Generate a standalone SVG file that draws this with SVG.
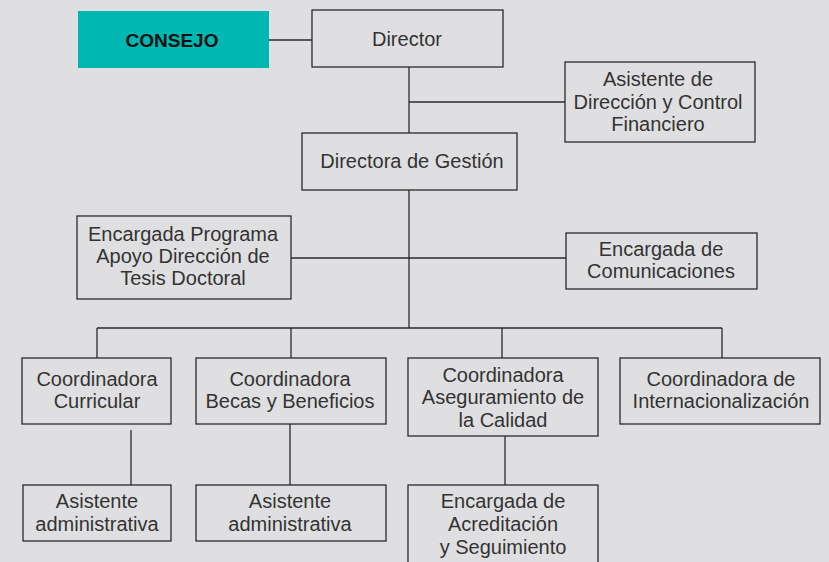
<svg xmlns="http://www.w3.org/2000/svg" width="829" height="562" viewBox="0 0 829 562">
<style>
.bg{fill:#dfdfe1}
.box{fill:#dfdfe1;stroke:#2a2a2a;stroke-width:1.3}
.line{stroke:#2a2a2a;stroke-width:1.3;fill:none}
text{font-family:"Liberation Sans",Arial,sans-serif;font-size:20px;fill:#333;text-anchor:middle}
.bold{font-weight:bold;fill:#111;font-size:19px}
</style>
<rect class="bg" x="0" y="0" width="829" height="562"/>
<g id="connectors">
<line class="line" x1="269" y1="40" x2="312" y2="40"/>
<line class="line" x1="409" y1="67" x2="409" y2="133"/>
<line class="line" x1="409" y1="102" x2="565" y2="102"/>
<line class="line" x1="409" y1="190" x2="409" y2="328"/>
<line class="line" x1="291" y1="258" x2="566" y2="258"/>
<line class="line" x1="97" y1="328" x2="722" y2="328"/>
<line class="line" x1="97" y1="328" x2="97" y2="358"/>
<line class="line" x1="291" y1="328" x2="291" y2="358"/>
<line class="line" x1="502" y1="328" x2="502" y2="358"/>
<line class="line" x1="722" y1="328" x2="722" y2="358"/>
<line class="line" x1="131" y1="430" x2="131" y2="485"/>
<line class="line" x1="290" y1="424" x2="290" y2="485"/>
<line class="line" x1="505" y1="436" x2="505" y2="485"/>
</g>
<g id="consejo">
<rect x="78" y="11" width="191" height="57" fill="#00b8b1"/>
<text class="bold" x="172" y="47">CONSEJO</text>
</g>
<g id="director">
<rect class="box" x="312" y="10" width="191" height="57"/>
<text x="407" y="46">Director</text>
</g>
<g id="asistente-direccion">
<rect class="box" x="565" y="62" width="190" height="80"/>
<text x="658" y="86">Asistente de</text>
<text x="658" y="109">Dirección y Control</text>
<text x="658" y="131">Financiero</text>
</g>
<g id="directora-gestion">
<rect class="box" x="302" y="133" width="215" height="57"/>
<text x="412" y="168">Directora de Gestión</text>
</g>
<g id="encargada-programa">
<rect class="box" x="77" y="216" width="214" height="83"/>
<text x="183" y="241">Encargada Programa</text>
<text x="183" y="263">Apoyo Dirección de</text>
<text x="183" y="285">Tesis Doctoral</text>
</g>
<g id="encargada-comunicaciones">
<rect class="box" x="566" y="233" width="191" height="56"/>
<text x="661" y="256">Encargada de</text>
<text x="661" y="278">Comunicaciones</text>
</g>
<g id="coord-curricular">
<rect class="box" x="22" y="358" width="149" height="66"/>
<text x="97" y="386">Coordinadora</text>
<text x="97" y="408">Curricular</text>
</g>
<g id="coord-becas">
<rect class="box" x="196" y="358" width="190" height="66"/>
<text x="290" y="386">Coordinadora</text>
<text x="290" y="408">Becas y Beneficios</text>
</g>
<g id="coord-aseguramiento">
<rect class="box" x="408" y="358" width="190" height="78"/>
<text x="503" y="382">Coordinadora</text>
<text x="503" y="404">Aseguramiento de</text>
<text x="503" y="427">la Calidad</text>
</g>
<g id="coord-internacionalizacion">
<rect class="box" x="620" y="358" width="200" height="66"/>
<text x="721" y="386">Coordinadora de</text>
<text x="721" y="408">Internacionalización</text>
</g>
<g id="asistente-1">
<rect class="box" x="23" y="485" width="148" height="56"/>
<text x="97" y="508">Asistente</text>
<text x="97" y="531">administrativa</text>
</g>
<g id="asistente-2">
<rect class="box" x="196" y="485" width="190" height="56"/>
<text x="290" y="508">Asistente</text>
<text x="290" y="531">administrativa</text>
</g>
<g id="encargada-acreditacion">
<rect class="box" x="408" y="485" width="190" height="90"/>
<text x="503" y="508">Encargada de</text>
<text x="503" y="531">Acreditación</text>
<text x="503" y="554">y Seguimiento</text>
</g>
</svg>
